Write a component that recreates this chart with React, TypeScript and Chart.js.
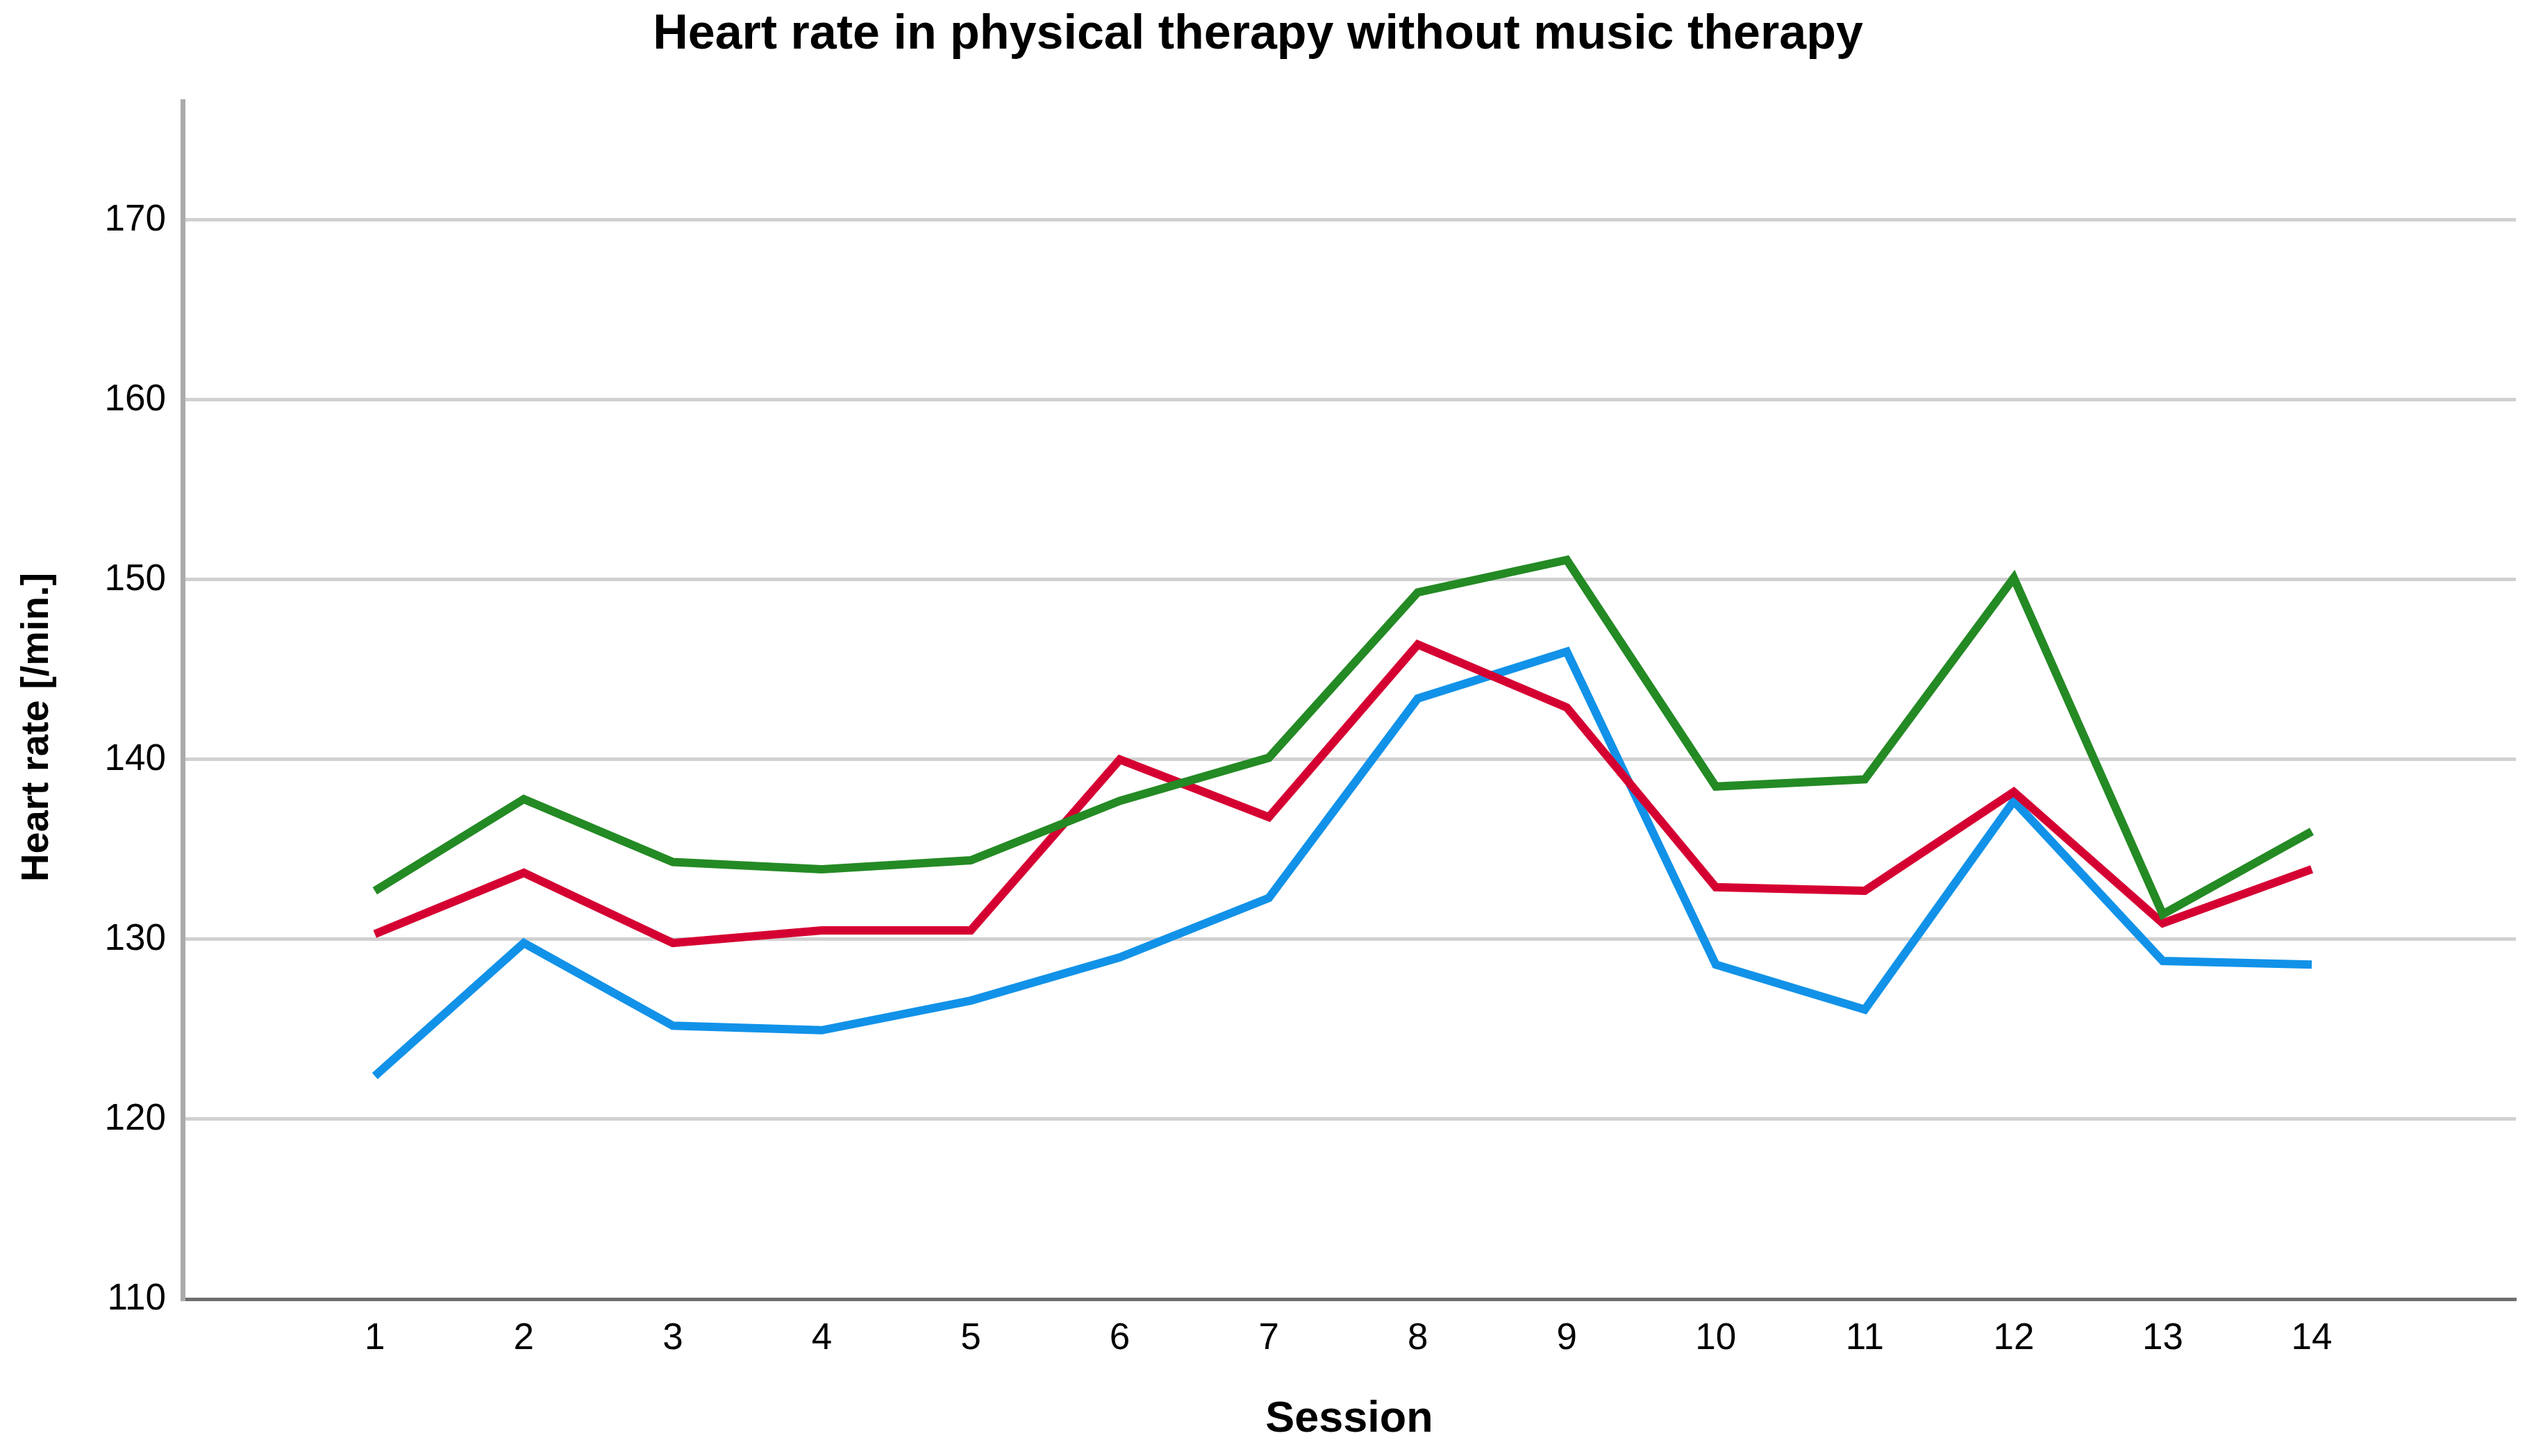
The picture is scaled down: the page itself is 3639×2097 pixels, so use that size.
import React, { useEffect, useRef } from "react";
import { Chart, registerables } from "chart.js";

Chart.register(...registerables);

const SESSIONS = [1, 2, 3, 4, 5, 6, 7, 8, 9, 10, 11, 12, 13, 14];
const GREEN_VALUES = [132.7, 137.8, 134.3, 133.9, 134.4, 137.7, 140.1, 149.3, 151.1, 138.5, 138.9, 150.1, 131.4, 136.0];
const RED_VALUES = [130.3, 133.7, 129.8, 130.5, 130.5, 140.0, 136.8, 146.4, 142.9, 132.9, 132.7, 138.2, 130.9, 133.9];
const BLUE_VALUES = [122.4, 129.8, 125.2, 124.95, 126.6, 129.0, 132.3, 143.4, 146.0, 128.6, 126.1, 137.7, 128.8, 128.6];
const Y_TICKS = [110, 120, 130, 140, 150, 160, 170];

const TITLE = "Heart rate in physical therapy without music therapy";
const X_TITLE = "Session";
const Y_TITLE = "Heart rate [/min.]";

const W = 3639;
const H = 2097;
const FONT = "'Liberation Sans', Arial, Helvetica, sans-serif";

export default function App() {
  const ref = useRef<HTMLCanvasElement | null>(null);

  useEffect(() => {
    if (!ref.current) return;
    const mk = (vals: number[]) => SESSIONS.map((s, i) => ({ x: s, y: vals[i] }));
    const lineDs = (vals: number[], color: string) => ({
      data: mk(vals),
      borderColor: color,
      backgroundColor: color,
      borderWidth: 12,
      pointRadius: 0,
      tension: 0,
      fill: false,
      borderJoinStyle: "miter" as const,
      borderCapStyle: "butt" as const,
    });
    const chart = new Chart(ref.current, {
      type: "line",
      data: {
        datasets: [
          lineDs(GREEN_VALUES, "rgb(36,138,36)"),
          lineDs(RED_VALUES, "rgb(213,0,50)"),
          lineDs(BLUE_VALUES, "rgb(17,146,232)"),
        ],
      },
      options: {
        animation: false,
        responsive: false,
        devicePixelRatio: 1,
        layout: { padding: { left: 0, right: 16, top: 0, bottom: 0 } },
        plugins: {
          legend: { display: false },
          tooltip: { enabled: false },
          title: {
            display: true,
            text: TITLE,
            color: "#000",
            font: { family: FONT, size: 70, weight: "bold", lineHeight: 1.2 },
            padding: { top: 9, bottom: 53 },
          },
        },
        scales: {
          x: {
            type: "linear",
            min: -0.29,
            max: 15.37,
            afterBuildTicks: (scale: any) => {
              scale.ticks = SESSIONS.map((v) => ({ value: v }));
            },
            afterFit: (scale: any) => {
              scale.height = 226;
            },
            grid: { display: false, drawTicks: false },
            border: { display: true, color: "#6e6e6e", width: 5 },
            ticks: {
              color: "#000",
              font: { family: FONT, size: 53 },
              padding: 26,
              maxRotation: 0,
              autoSkip: false,
              callback: (v: any) => String(v),
            },
            title: {
              display: true,
              text: X_TITLE,
              color: "#000",
              font: { family: FONT, size: 63, weight: "bold", lineHeight: 1.2 },
              padding: { top: 0, bottom: 15 },
            },
          },
          y: {
            type: "linear",
            min: 110,
            max: 176.6,
            afterBuildTicks: (scale: any) => {
              scale.ticks = Y_TICKS.map((v) => ({ value: v }));
            },
            afterFit: (scale: any) => {
              scale.width = 263;
            },
            grid: { color: "#d0d0d0", lineWidth: 5, drawTicks: false },
            border: { display: true, color: "#ababab", width: 7 },
            ticks: {
              color: "#000",
              font: { family: FONT, size: 53 },
              padding: 24,
              callback: (v: any) => String(v),
            },
            title: {
              display: true,
              text: Y_TITLE + "     ",
              color: "#000",
              font: { family: FONT, size: 56, weight: "bold", lineHeight: 1.2 },
              padding: { top: 20, bottom: 0 },
            },
          },
        },
      },
    } as any);
    return () => chart.destroy();
  }, []);

  return (
    <div style={{ position: "absolute", left: 0, top: 0, width: W, height: H, background: "#fff" }}>
      <canvas ref={ref} width={W} height={H} style={{ width: W, height: H, display: "block" }} />
    </div>
  );
}
